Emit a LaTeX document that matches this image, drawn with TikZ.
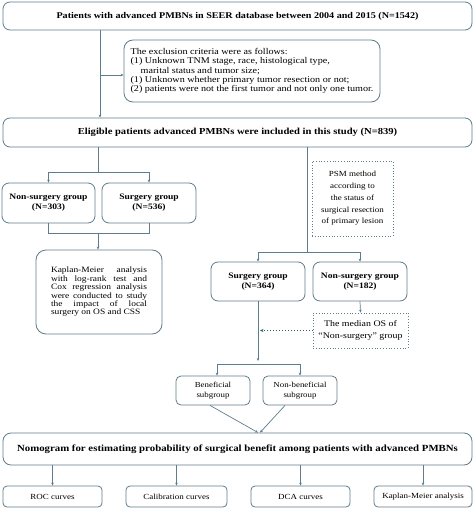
\documentclass[tikz,border=0pt]{standalone}
\usepackage{fontspec}
\setmainfont[FakeStretch=1.15]{Liberation Serif}
\usetikzlibrary{arrows.meta}
\definecolor{bcol}{HTML}{5E7C8B}
\definecolor{dcol}{HTML}{2E5E68}
\tikzset{
  box/.style={draw=bcol, line width=0.8pt, rounded corners=7pt, fill=white, inner sep=2pt, align=center},
  dbox/.style={draw=bcol, line width=0.8pt, dotted, fill=white, inner sep=2pt, align=center},
  conn/.style={draw=bcol, line width=0.7pt},
  arr/.style={conn, -{Stealth[length=3pt,width=2.6pt]}},
  dotarr/.style={draw=dcol, line width=1pt, dotted, -{Stealth[length=3.5pt,width=3pt]}},
  grp/.style={box, font=\fontsize{8.3}{10}\selectfont\bfseries, minimum width=94pt},
  bot/.style={box, font=\fontsize{7.8}{10}\selectfont, minimum height=21pt, rounded corners=4pt},
}
\begin{document}
\begin{tikzpicture}[x=1pt,y=-1pt]
\useasboundingbox (0,0) rectangle (474,508);
% nodes
\node[box,font=\fontsize{8.8}{11}\selectfont\bfseries,minimum width=469pt,minimum height=28pt] (b1) at (237.5,16) {Patients with advanced PMBNs in SEER database between 2004 and 2015 (N=1542)};
\node[box,font=\fontsize{8.8}{9.3}\selectfont,minimum width=256pt,minimum height=62pt,rounded corners=9pt,align=left,inner xsep=3.5pt] (excl) at (252,71) {The exclusion criteria were as follows:\\(1) Unknown TNM stage, race, histological type,\\\hspace{1.15em}marital status and tumor size;\\(1) Unknown whether primary tumor resection or not;\\(2) patients were not the first tumor and not only one tumor.};
\node[box,font=\fontsize{9.2}{11}\selectfont\bfseries,minimum width=469pt,minimum height=29pt] (b2) at (237.5,132.5) {Eligible patients advanced PMBNs were included in this study (N=839)};
\node[grp,minimum width=93pt,minimum height=40pt] (ns1) at (48.5,203) {Non-surgery group\\(N=303)};
\node[grp,minimum height=40pt] (s1) at (149,203) {Surgery group\\(N=536)};
\node[box,font=\fontsize{8.2}{8.4}\selectfont,minimum width=126pt,minimum height=84pt,rounded corners=10pt,text width=96pt,align=justify] (km) at (99,292) {Kaplan-Meier analysis\linebreak with log-rank test and\linebreak Cox regression analysis\linebreak were conducted to study\linebreak the impact of local\linebreak surgery on OS and CSS};
\node[dbox,font=\fontsize{7.8}{11.7}\selectfont,minimum width=81pt,minimum height=75pt] (psm) at (352.5,198.5) {PSM method\\according to\\the status of\\surgical resection\\of primary lesion};
\node[grp,minimum height=39pt] (s2) at (258,281.5) {Surgery group\\(N=364)};
\node[grp,minimum height=39pt] (ns2) at (360,281.5) {Non-surgery group\\(N=182)};
\node[dbox,font=\fontsize{8.6}{11.5}\selectfont,minimum width=95pt,minimum height=35pt] (med) at (360.5,330.5) {The median OS of\\“Non-surgery” group};
\node[box,font=\fontsize{7.7}{10.5}\selectfont,minimum width=74pt,minimum height=29pt,rounded corners=5pt] (ben) at (213,390.5) {Beneficial\\subgroup};
\node[box,font=\fontsize{7.7}{10.5}\selectfont,minimum width=74pt,minimum height=29pt,rounded corners=5pt] (nben) at (300,390.5) {Non-beneficial\\subgroup};
\node[box,font=\fontsize{9.4}{12}\selectfont\bfseries,minimum width=469pt,minimum height=32pt,rounded corners=8pt] (nomo) at (237.5,449) {Nomogram for estimating probability of surgical benefit among patients with advanced PMBNs};
\node[bot,minimum width=99pt] (roc) at (52.5,496.5) {ROC curves};
\node[bot,minimum width=101pt] (cal) at (176.5,496.5) {Calibration curves};
\node[bot,minimum width=99pt] (dca) at (300.5,496.5) {DCA curves};
\node[bot,minimum width=98pt] (kma) at (423,496.5) {Kaplan-Meier analysis};
% junctions
\coordinate (cA) at (100,75);
\coordinate (j1) at (98,172);
\coordinate (j2) at (98,233);
\coordinate (j3) at (307,252);
\coordinate (j4) at (258,364);
% connectors
\draw[arr] (b1.south -| cA) -- (b2.north -| cA);
\draw[arr] (cA) -- (excl.west |- cA);
\draw[conn] (b2.south -| j1) -- (j1);
\draw[arr] (j1) -| (ns1.north);
\draw[arr] (j1) -| (s1.north);
\draw[conn] (ns1.south) |- (j2);
\draw[conn] (s1.south) |- (j2);
\draw[arr] (j2) -- (km.north -| j2);
\draw[conn] (b2.south -| j3) -- (j3);
\draw[arr] (j3) -| (s2.north);
\draw[arr] (j3) -| (ns2.north);
\draw[arr] (ns2.south) -- (med.north);
\draw[dotarr] (med.west) -- ([xshift=2pt]med.west -| s2.south);
\draw[arr] (s2.south) -- ([yshift=3pt]j4);
\draw[arr] (j4) -| ([xshift=4pt]ben.north);
\draw[arr] (j4) -| (nben.north);
\draw[arr] ([xshift=-3pt]ben.south) -- (nomo.north -| j4);
\draw[arr] ([xshift=-15pt]nben.south) -- ([xshift=2pt]nomo.north -| j4);
\draw[arr] (nomo.south -| roc.north) -- (roc.north);
\draw[arr] (nomo.south -| cal.north) -- (cal.north);
\draw[arr] (nomo.south -| dca.north) -- (dca.north);
\draw[arr] (nomo.south -| kma.north) -- (kma.north);
\end{tikzpicture}
\end{document}
